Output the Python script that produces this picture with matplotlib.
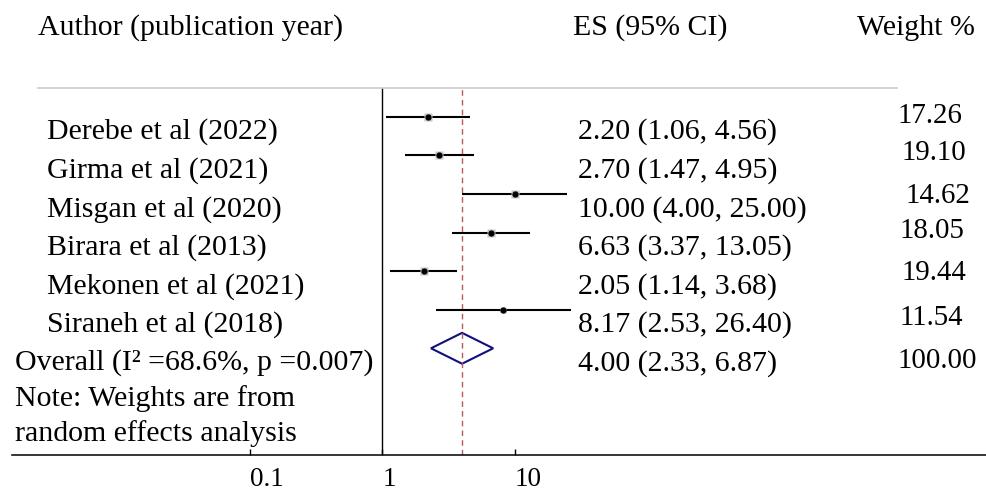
import matplotlib
matplotlib.use("Agg")
import matplotlib.pyplot as plt
from matplotlib.lines import Line2D
from matplotlib.patches import Polygon

# ---------------- data ----------------
authors = ["Derebe et al (2022)", "Girma et al (2021)", "Misgan et al (2020)",
           "Birara et al (2013)", "Mekonen et al (2021)", "Siraneh et al (2018)"]
es = [2.20, 2.70, 10.00, 6.63, 2.05, 8.17]
ci_lo = [1.06, 1.47, 4.00, 3.37, 1.14, 2.53]
ci_hi = [4.56, 4.95, 25.00, 13.05, 3.68, 26.40]
weights = [17.26, 19.10, 14.62, 18.05, 19.44, 11.54]
overall_es, overall_lo, overall_hi = 4.00, 2.33, 6.87
overall_weight = 100.00
i2, p_het = 68.6, 0.007
xticks = [0.1, 1, 10]
xtick_labels = ["0.1", "1", "10"]

# ---------------- layout (pixels) ----------------
W, H = 986, 493
plt.rcParams['font.family'] = ['Liberation Serif', 'DejaVu Serif']

fig = plt.figure(figsize=(W / 100, H / 100), dpi=100)

def fx(x):
    return x / W

def fy(y):
    return 1 - y / H

ax_left, ax_right, ax_top, ax_bot = 12, 986, 88, 455
ax = fig.add_axes([fx(ax_left), fy(ax_bot), (ax_right - ax_left) / W, (ax_bot - ax_top) / H])
ax.set_xscale('log')
ax.set_xlim(10 ** -2.7976, 10 ** 4.5597)
row0_px, row_step = 116.7, 38.6
ax.set_ylim((ax_bot - row0_px) / row_step, (ax_top - row0_px) / row_step)

for s in ['top', 'right', 'left']:
    ax.spines[s].set_visible(False)
ax.spines['bottom'].set_linewidth(1.1)
ax.set_yticks([])
ax.set_xticks(xticks)
ax.set_xticklabels(xtick_labels, fontsize=19.5)
ax.minorticks_off()
ax.tick_params(axis='x', direction='in', length=4, width=1, pad=9)
for lbl in ax.get_xticklabels():
    lbl.set_horizontalalignment('left')

# reference lines
ax.axvline(1, color='black', lw=1.0)
ax.axvline(overall_es, color='#b85a5a', lw=1.0, ls=(0, (4, 3)))

# studies
for i in range(len(es)):
    ax.plot([ci_lo[i], ci_hi[i]], [i, i], color='black', lw=1.5, solid_capstyle='butt')
    ax.plot(es[i], i, marker='s', ms=1.35 * weights[i] ** 0.5, color='#c4c4c4', mec='none')
    ax.plot(es[i], i, marker='o', ms=3.5, color='black')

# overall diamond
yo = len(es)
dh = 0.4
diamond = Polygon([[overall_lo, yo], [overall_es, yo - dh], [overall_hi, yo], [overall_es, yo + dh]],
                  closed=True, fill=False, edgecolor='#10107a', lw=1.5)
ax.add_patch(diamond)

# top gray rule
fig.add_artist(Line2D([fx(38), fx(897)], [fy(88), fy(88)], color='#cccccc', lw=1.2))

# headers
hdr_fs = 21.5
fig.text(fx(38), fy(35), "Author (publication year)", fontsize=hdr_fs, va='baseline')
fig.text(fx(573), fy(35), "ES (95% CI)", fontsize=hdr_fs, va='baseline')
fig.text(fx(857), fy(35), "Weight %", fontsize=hdr_fs, va='baseline')

# row texts
txt_fs = 21.5
base0, base_step = 139, 38.6
for i, a in enumerate(authors):
    yb = base0 + i * base_step
    fig.text(fx(47), fy(yb), a, fontsize=txt_fs, va='baseline')
    fig.text(fx(578), fy(yb), f"{es[i]:.2f} ({ci_lo[i]:.2f}, {ci_hi[i]:.2f})", fontsize=txt_fs, va='baseline')

fig.text(fx(15), fy(370), f"Overall (I\u00b2 ={i2:.1f}%, p ={p_het:.3f})", fontsize=txt_fs, va='baseline')
fig.text(fx(578), fy(371), f"{overall_es:.2f} ({overall_lo:.2f}, {overall_hi:.2f})", fontsize=txt_fs, va='baseline')
fig.text(fx(15), fy(406), "Note: Weights are from", fontsize=txt_fs, va='baseline')
fig.text(fx(15), fy(441), "random effects analysis", fontsize=txt_fs, va='baseline')

# weights (slightly irregular placement as in the source)
wt_x = [898, 902, 905, 900, 902, 900, 898]
wt_base = [123, 160, 203, 238, 280, 325, 368]
wt_fs = 20.8
for i, w in enumerate(weights + [overall_weight]):
    fig.text(fx(wt_x[i]), fy(wt_base[i]), f"{w:.2f}", fontsize=wt_fs, va='baseline')

fig.savefig("out.png", dpi=100)
